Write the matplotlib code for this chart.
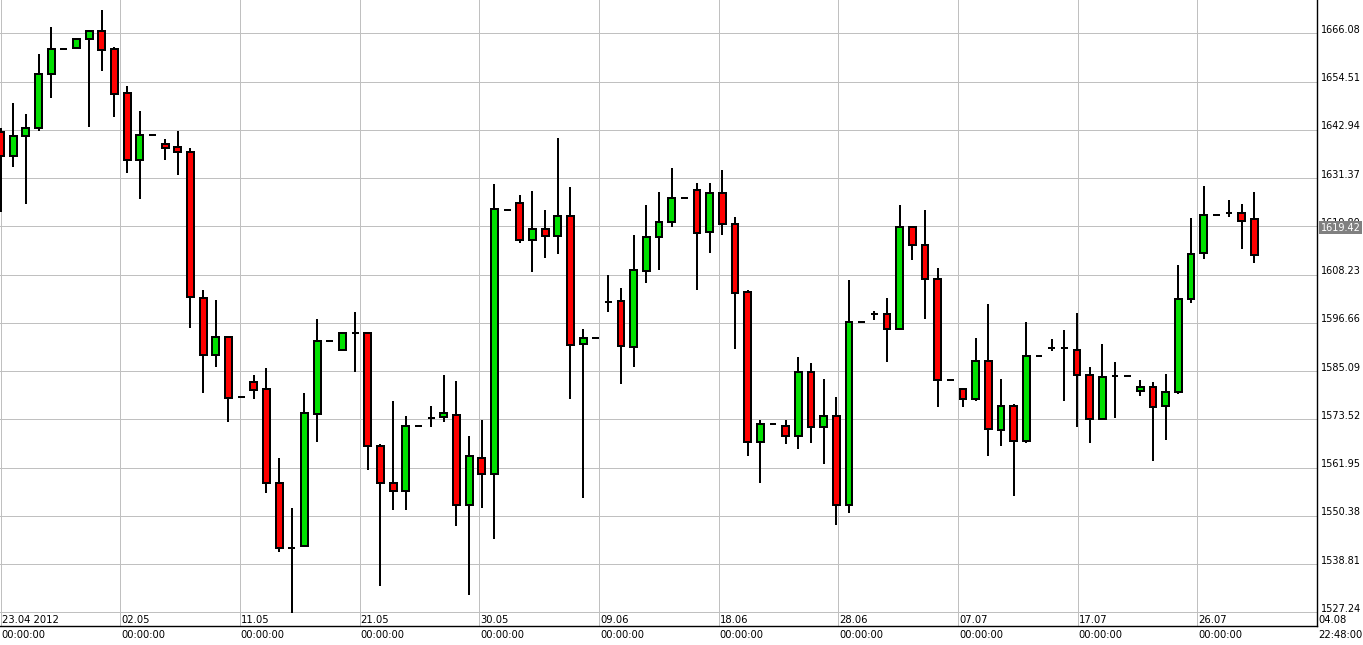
import numpy as np
import matplotlib
matplotlib.use('Agg')
import matplotlib.pyplot as plt

# daily candles, index 0 = 23.04.2012
opens = [1642.5, 1636.7, 1641.5, 1643.3, 1656.4, 1662.2, 1662.6, 1664.7, 1666.6, 1662.2,
         1651.8, 1635.6, 1641.8, 1639.6, 1638.9, 1637.5, 1602.7, 1588.9, 1593.3, 1578.8,
         1582.5, 1580.7, 1558.3, 1542.7, 1543.1, 1574.8, 1592.4, 1590.1, 1594.3, 1594.3,
         1567.2, 1558.3, 1556.3, 1572.0, 1573.9, 1574.1, 1574.6, 1553.0, 1564.3, 1560.4,
         1623.8, 1625.3, 1616.5, 1619.2, 1617.5, 1622.3, 1591.6, 1592.9, 1601.7, 1601.9,
         1590.9, 1609.1, 1617.2, 1620.9, 1626.7, 1628.6, 1618.4, 1627.9, 1620.4, 1604.1,
         1568.1, 1572.5, 1572.0, 1569.5, 1584.9, 1571.7, 1574.4, 1553.0, 1596.9, 1598.7,
         1598.8, 1595.2, 1619.7, 1615.4, 1607.2, 1582.9, 1580.9, 1578.4, 1587.6, 1570.9,
         1576.8, 1568.3, 1588.8, 1590.5, 1590.5, 1590.2, 1584.2, 1573.6, 1583.8, 1584.0,
         1580.3, 1581.3, 1576.7, 1580.0, 1602.3, 1613.4, 1622.6, 1623.1, 1622.9, 1621.5]
highs = [1643.3, 1649.3, 1646.7, 1661.1, 1667.6, 1662.2, 1664.7, 1666.6, 1671.7, 1662.7,
         1653.4, 1647.5, 1641.8, 1640.7, 1642.7, 1638.6, 1604.5, 1602.1, 1593.3, 1578.8,
         1584.1, 1585.8, 1564.2, 1552.2, 1579.8, 1597.6, 1592.4, 1594.3, 1599.3, 1594.3,
         1567.5, 1577.9, 1574.2, 1572.0, 1576.6, 1584.1, 1582.6, 1569.5, 1573.4, 1629.9,
         1623.8, 1627.3, 1628.3, 1623.7, 1640.9, 1629.2, 1595.1, 1592.9, 1608.1, 1604.9,
         1617.7, 1624.9, 1628.1, 1633.7, 1626.7, 1630.2, 1630.3, 1633.3, 1622.0, 1604.5,
         1573.3, 1572.5, 1573.3, 1588.4, 1587.0, 1583.1, 1578.9, 1606.9, 1596.9, 1599.6,
         1602.5, 1624.8, 1619.7, 1623.6, 1609.7, 1582.9, 1581.1, 1592.9, 1601.1, 1583.1,
         1577.1, 1596.8, 1588.8, 1592.7, 1594.9, 1599.0, 1586.0, 1591.6, 1587.3, 1584.0,
         1582.9, 1582.4, 1584.4, 1610.5, 1621.8, 1629.5, 1622.6, 1626.1, 1625.2, 1628.0]
lows = [1623.3, 1634.1, 1625.1, 1642.7, 1650.6, 1662.2, 1662.6, 1643.7, 1657.1, 1646.1,
        1632.7, 1626.4, 1641.8, 1635.7, 1632.2, 1595.5, 1579.8, 1586.0, 1572.8, 1578.8,
        1578.3, 1555.9, 1541.6, 1527.1, 1543.1, 1568.1, 1592.4, 1590.1, 1584.9, 1561.4,
        1533.5, 1551.7, 1551.7, 1572.0, 1571.6, 1572.9, 1548.0, 1531.3, 1552.2, 1544.9,
        1623.8, 1615.9, 1608.9, 1612.1, 1613.2, 1578.3, 1554.6, 1592.9, 1599.3, 1581.9,
        1586.1, 1606.3, 1609.4, 1619.7, 1626.7, 1604.6, 1613.5, 1617.6, 1590.3, 1564.7,
        1558.3, 1572.5, 1567.6, 1566.5, 1567.9, 1562.8, 1548.2, 1551.1, 1596.9, 1597.3,
        1587.3, 1595.2, 1611.6, 1597.6, 1576.5, 1582.9, 1576.5, 1578.0, 1564.6, 1567.0,
        1555.2, 1567.8, 1588.8, 1589.8, 1578.0, 1571.7, 1567.9, 1573.3, 1573.9, 1584.0,
        1579.2, 1563.4, 1568.6, 1579.7, 1601.5, 1612.0, 1622.6, 1622.1, 1614.4, 1611.1]
closes = [1636.7, 1641.5, 1643.4, 1656.4, 1662.2, 1662.2, 1664.7, 1666.6, 1662.1, 1651.5,
          1635.6, 1641.8, 1641.8, 1638.6, 1637.6, 1602.9, 1588.9, 1593.3, 1578.6, 1578.8,
          1580.5, 1558.2, 1542.7, 1542.7, 1575.1, 1592.4, 1592.4, 1594.3, 1594.3, 1567.1,
          1558.2, 1556.3, 1572.0, 1572.0, 1573.9, 1575.0, 1553.0, 1564.6, 1560.5, 1623.9,
          1623.8, 1616.5, 1619.2, 1617.5, 1622.3, 1591.3, 1592.9, 1592.9, 1601.7, 1591.1,
          1609.3, 1617.3, 1620.9, 1626.7, 1626.7, 1618.2, 1627.9, 1620.4, 1603.8, 1568.1,
          1572.5, 1572.5, 1569.5, 1584.9, 1571.7, 1574.4, 1553.0, 1596.9, 1596.9, 1598.7,
          1595.2, 1619.7, 1615.2, 1607.2, 1582.9, 1582.9, 1578.4, 1587.6, 1571.2, 1576.8,
          1568.3, 1588.8, 1588.8, 1590.5, 1590.5, 1584.1, 1573.6, 1583.7, 1583.8, 1584.0,
          1581.3, 1576.5, 1580.1, 1602.4, 1613.2, 1622.6, 1622.6, 1623.1, 1621.1, 1612.9]

price_levels = [1527.24, 1538.81, 1550.38, 1561.95, 1573.52, 1585.09, 1596.66,
                1608.23, 1619.80, 1631.37, 1642.94, 1654.51, 1666.08]
date_labels = ['23.04 2012', '02.05', '11.05', '21.05', '30.05', '09.06',
               '18.06', '28.06', '07.07', '17.07', '26.07', '04.08']
time_labels = ['00:00:00'] * 11 + ['22:48:00']
last_price = 1619.42

x_end = 103.95  # 04.08 22:48 in days from 23.04
date_pos = np.linspace(0, x_end, len(date_labels))

o = np.array(opens)
c = np.array(closes)
x = np.arange(len(o))
up = c > o
colors = np.where(up, '#00e000', '#ff0000')

fig = plt.figure(figsize=(13.63, 6.45), dpi=100)
ax = fig.add_axes([0, 19 / 645, 1317 / 1363, 626 / 645])

px = 0.72  # one pixel in points
ax.vlines(x, lows, highs, color='black', lw=2 * px, zorder=2)
ax.bar(x, np.abs(c - o), bottom=np.minimum(o, c), width=0.54, color=colors,
       edgecolor='black', linewidth=2 * px, zorder=3)

ax.set_xlim(-0.04, x_end)
ax.set_ylim(1523.95, 1674.07)
ax.set_xticks(date_pos)
ax.set_yticks(price_levels)
ax.grid(True, color='#c0c0c0', lw=1.0 * px, zorder=0)
ax.set_axisbelow(True)
ax.tick_params(length=0, labelbottom=False, labelleft=False)
for s in ['left', 'top']:
    ax.spines[s].set_visible(False)
for s in ['right', 'bottom']:
    ax.spines[s].set_linewidth(1.4 * px)

fs = 7.2
for lv in price_levels:
    ax.annotate(f'{lv:.2f}', xy=(1, lv), xycoords=('axes fraction', 'data'),
                xytext=(4 * px, 0.5 * px), textcoords='offset points',
                fontsize=7, va='baseline', ha='left', annotation_clip=False)

# current price marker sits over the 1619.80 label, as in the original
ax.annotate(f'{last_price:.2f}', xy=(1, last_price), xycoords=('axes fraction', 'data'),
            xytext=(3.5 * px, 0), textcoords='offset points', color='white',
            fontsize=7, va='center', ha='left', annotation_clip=False, zorder=10,
            bbox=dict(boxstyle='square,pad=0.15', fc='#808080', ec='none'))

for xp, dl, tl in zip(date_pos, date_labels, time_labels):
    ax.annotate(dl, xy=(xp, 0), xycoords=('data', 'axes fraction'),
                xytext=(1 * px, 3 * px), textcoords='offset points',
                fontsize=fs, va='baseline', ha='left', annotation_clip=False)
    ax.annotate(tl, xy=(xp, 0), xycoords=('data', 'axes fraction'),
                xytext=(1 * px, -4 * px), textcoords='offset points',
                fontsize=fs, va='top', ha='left', annotation_clip=False)

fig.savefig('out.png', dpi=100)
